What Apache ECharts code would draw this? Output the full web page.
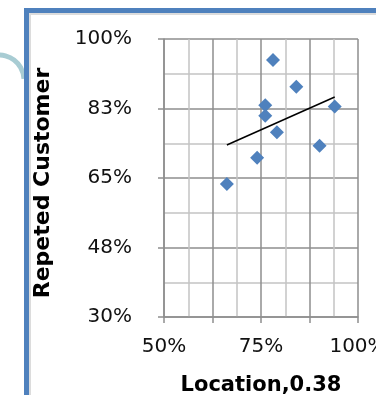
<!DOCTYPE html>
<html>
<head>
<meta charset="utf-8">
<script src="https://cdn.jsdelivr.net/npm/echarts@6/dist/echarts.min.js"></script>
<style>
  html, body { margin: 0; padding: 0; background: #fff; }
  #chart { width: 376px; height: 395px; }
</style>
</head>
<body>
<div id="chart"></div>
<script>
// Location score (x) vs. share of repeat customers (y), both in percent
const locationShare = [78.1, 84.1, 76.1, 76.1, 94.0, 79.1, 90.1, 74.0, 66.2];
const repeatShare   = [94.7, 88.0, 83.3, 80.7, 83.0, 76.5, 73.1, 70.1, 63.5];

const xTickLabels = ['50%', '', '75%', '', '100%'];
const yTickLabels = ['30%', '48%', '65%', '83%', '100%'];

const xTitle = 'Location,0.38';
const yTitle = 'Repeted Customer';

// Least-squares linear trend across the observed x range
function linearTrend(xs, ys) {
  const n = xs.length;
  const mx = xs.reduce((a, b) => a + b, 0) / n;
  const my = ys.reduce((a, b) => a + b, 0) / n;
  let sxy = 0, sxx = 0;
  for (let i = 0; i < n; i++) {
    sxy += (xs[i] - mx) * (ys[i] - my);
    sxx += (xs[i] - mx) * (xs[i] - mx);
  }
  const slope = sxy / sxx;
  const x0 = Math.min(...xs), x1 = Math.max(...xs);
  return [[x0, my + slope * (x0 - mx)], [x1, my + slope * (x1 - mx)]];
}

const points = locationShare.map((x, i) => [x, repeatShare[i]]);
const trend = linearTrend(locationShare, repeatShare);

const BLUE = '#4f81bd';
const MAJOR = '#8e8e8e';
const MINOR = '#c4c4c4';
const FONT = '"DejaVu Sans", Verdana, sans-serif';

const chart = echarts.init(document.getElementById('chart'), null, { renderer: 'canvas' });

chart.setOption({
  animation: false,
  backgroundColor: '#ffffff',
  grid: { left: 164, right: 18, top: 39, bottom: 78, containLabel: false, outerBoundsMode: 'none' },
  graphic: [
    { type: 'arc', shape: { cx: -1, cy: 80, r: 25, startAngle: -Math.PI * 2 / 3, endAngle: -0.05, clockwise: true },
      style: { stroke: '#a8ccd3', lineWidth: 5, fill: 'none' }, silent: true },
    { type: 'rect', shape: { x: 29, y: 13, width: 360, height: 2 }, style: { fill: '#dcdcdc' }, silent: true },
    { type: 'rect', shape: { x: 29, y: 13, width: 2, height: 400 }, style: { fill: '#dcdcdc' }, silent: true },
    { type: 'rect', shape: { x: 24, y: 8, width: 360, height: 5 }, style: { fill: BLUE }, silent: true },
    { type: 'rect', shape: { x: 24, y: 8, width: 5, height: 400 }, style: { fill: BLUE }, silent: true }
  ],
  xAxis: {
    type: 'value',
    min: 50, max: 100, interval: 12.5,
    name: xTitle,
    nameLocation: 'middle',
    nameGap: 58,
    nameTextStyle: { fontFamily: FONT, fontSize: 21, fontWeight: 'bold', color: '#000' },
    axisLine: { show: true, lineStyle: { color: MAJOR, width: 1.5 } },
    axisTick: { show: true, length: 6, lineStyle: { color: MAJOR, width: 1.5 } },
    axisLabel: {
      margin: 20, fontFamily: FONT, fontSize: 20, color: '#111',
      formatter: (v, i) => xTickLabels[i] || ''
    },
    splitLine: { show: true, lineStyle: { color: MAJOR, width: 1.5 } },
    minorTick: { show: false, splitNumber: 2 },
    minorSplitLine: { show: true, lineStyle: { color: MINOR, width: 1.5 } }
  },
  yAxis: {
    type: 'value',
    min: 30, max: 100, interval: 17.5,
    name: yTitle,
    nameLocation: 'middle',
    nameRotate: 90,
    nameGap: 110,
    nameTextStyle: { fontFamily: FONT, fontSize: 22, fontWeight: 'bold', color: '#000', padding: [0, 10, 0, 0] },
    axisLine: { show: true, lineStyle: { color: MAJOR, width: 1.5 } },
    axisTick: { show: true, length: 6, lineStyle: { color: MAJOR, width: 1.5 } },
    axisLabel: {
      margin: 32, fontFamily: FONT, fontSize: 20, color: '#111',
      formatter: (v, i) => yTickLabels[i] || ''
    },
    splitLine: { show: true, lineStyle: { color: MAJOR, width: 1.5 } },
    minorTick: { show: false, splitNumber: 2 },
    minorSplitLine: { show: true, lineStyle: { color: MINOR, width: 1.5 } }
  },
  series: [
    {
      type: 'scatter',
      data: points,
      symbol: 'diamond',
      symbolSize: 14,
      itemStyle: { color: BLUE, opacity: 1 },
      z: 3
    },
    {
      type: 'line',
      data: trend,
      showSymbol: false,
      symbol: 'none',
      lineStyle: { color: '#000', width: 1.5 },
      z: 4
    }
  ]
});
</script>
</body>
</html>
